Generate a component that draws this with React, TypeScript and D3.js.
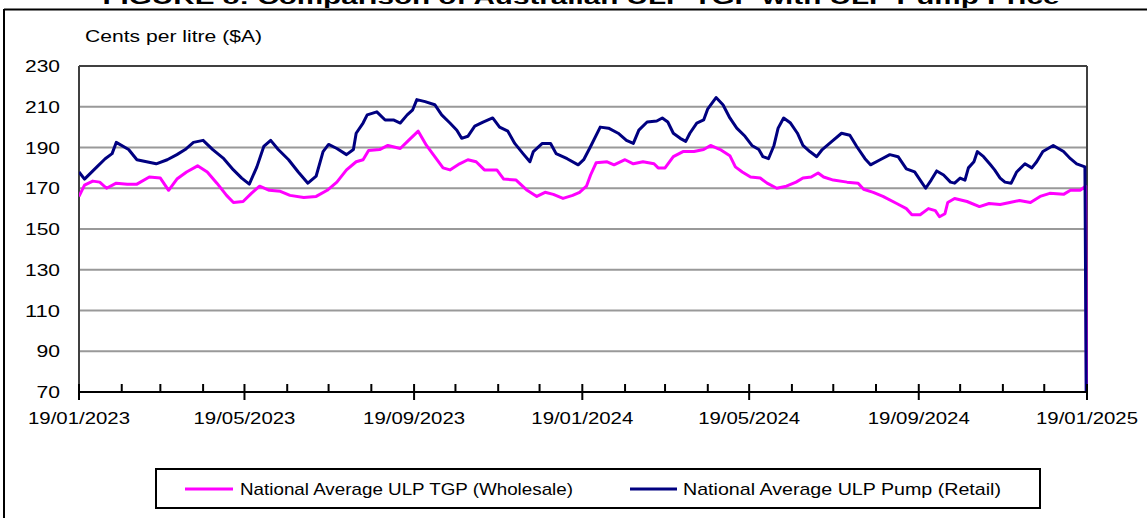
import React from "react";
import * as d3 from "d3";

const TITLE = "FIGURE 8: Comparison of Australian ULP TGP with ULP Pump Price";
const Y_TITLE = "Cents per litre ($A)";
const SERIES_NAMES = ["National Average ULP TGP (Wholesale)", "National Average ULP Pump (Retail)"];
const START_DATE = "2023-01-19";
const END_DATE = "2025-01-19";
const yTicks = [70, 90, 110, 130, 150, 170, 190, 210, 230];
const xTickLabels = ["19/01/2023", "19/05/2023", "19/09/2023", "19/01/2024", "19/05/2024", "19/09/2024", "19/01/2025"];

// [days since 19/01/2023, cents per litre]
const tgpWholesale: [number, number][] = [
  [0,166],[4,171.5],[10,173.5],[15,173],[20,170],[27,172.5],[35,172],[42,172],[51,175.5],[59,175],[65,169],[71,174.5],
  [78,178],[86,181],[93,178],[100,172.5],[107,166.5],[112,163],[119,163.5],[125,167.5],[131,171],[138,169],[146,168.5],
  [153,166.5],[163,165.5],[172,166],[180,169],[187,173],[194,179],[201,183],[206,184],[210,188.5],[218,189],[224,191],
  [233,189.5],[239,193.5],[246,198],[252,191],[258,185.5],[264,180],[269,179],[276,182],[282,184],[288,183],[294,179],
  [303,179],[308,174.5],[317,174],[325,169],[332,166],[338,168],[344,167],[351,165],[358,166.5],[363,168],[368,171],
  [371,176.5],[375,182.5],[383,183],[388,181.5],[396,184],[402,182],[409,183],[417,182],[420,180],[425,180],[431,185.5],
  [438,188],[446,188],[453,189],[458,191],[465,189],[472,186],[476,180.5],[481,178],[487,175.5],[494,175],[499,172.5],
  [506,170],[513,171],[520,173],[525,175],[531,175.5],[536,177.5],[540,175.5],[547,174],[557,173],[565,172.5],[569,169.5],
  [576,168],[583,166],[593,162.5],[600,160],[604,157],[610,157],[616,160],[621,159],[624,156],[628,157.5],[630,163],
  [635,165],[644,163.5],[653,161],[660,162.5],[668,162],[675,163],[682,164],[690,163],[697,166],[704,167.5],[714,167],
  [719,169],[726,169],[730,171],[731,0]
];

const pumpRetail: [number, number][] = [
  [0,178],[4,174.5],[13,180.5],[19,184.5],[24,187],[27,192.5],[36,189],[42,184],[49,183],[56,182],[64,184],[71,186.5],
  [77,189],[83,192.5],[90,193.5],[97,189],[105,184.5],[112,179],[118,175],[123.5,172],[129,180.5],[134,190.5],[139,193.5],
  [144.5,189],[152,184],[159,178],[166,172.5],[172,176],[177,188],[181,191.5],[187,189.5],[194,186.5],[199,189],[201,197],
  [206,202],[209,206],[216,207.5],[222,203.5],[228,203.5],[233,202],[238,206],[242,208.5],[245,213.5],[251,212.5],[258,211],
  [263,206],[269,202],[274,198.5],[277.5,194.5],[282,195.5],[287,200.5],[293,202.5],[300,204.5],[305,200],[311,198],[316,192],
  [322,187],[327,183],[329.5,188],[336,192],[342,192],[346,187],[354,184.5],[362,181.5],[366,184],[371,190.5],[378,200],
  [384,199.5],[391,197],[397,193.5],[402,192],[406,198.5],[412,202.5],[419,203],[423,204.5],[427,202.5],[431,197],[436,194.5],
  [440,193],[443,197],[448,202],[453,203.5],[456,209],[462,214.5],[467,211],[472,204.5],[477,199.5],[483,195.5],[488,191],
  [493,189],[496,185.5],[500,184.5],[504,191],[507,199.5],[511,204.5],[516,202],[521,197],[525,191],[530,188],[535,185.5],
  [539,189],[546,193],[553,197],[559,196],[564,190.5],[570,184.5],[574,181.5],[581,184],[588,186.5],[594,185.5],[600,179.5],
  [606,178],[611,173],[614,170],[618,174],[622,178.5],[627,176.5],[632,173],[635,172.5],[639,175],[642.5,174],[645,180],
  [649,183],[651.5,188],[656,185.5],[661,181.5],[664,179],[668,175],[671.5,173],[676,172.5],[680,178],[686,182],[691,180],
  [694.5,183],[699,188],[706.5,191],[714,188],[719,184.5],[723.5,182],[729.5,180.5],[731,0]
];

const COLORS = ["#FF00FF", "#000080"];
const FONT = "'Liberation Sans', Arial, sans-serif";

export default function App() {
  const W = 1147, H = 518;
  const plot = { left: 79, right: 1087, top: 66, bottom: 392 };
  const start = d3.timeParse("%Y-%m-%d")(START_DATE)!;
  const end = d3.timeParse("%Y-%m-%d")(END_DATE)!;
  const x = d3.scaleTime().domain([start, end]).range([plot.left, plot.right]);
  const y = d3.scaleLinear().domain([70, 230]).range([plot.bottom, plot.top]);
  const toDate = (d: number) => d3.timeHour.offset(start, d * 24);
  const line = d3.line<[number, number]>().x(p => x(toDate(p[0]))).y(p => y(p[1]));
  const monthTicks = d3.range(0, 25).map(i => d3.timeMonth.offset(start, i));

  return (
    <div style={{ position: "absolute", left: 0, top: 0, width: W, height: H, background: "#fff" }}>
      <svg width={W} height={H} style={{ display: "block", fontFamily: FONT }}>
        <defs>
          <clipPath id="plotclip">
            <rect x={plot.left} y={plot.top - 10} width={plot.right - plot.left + 2} height={plot.bottom - plot.top + 10} />
          </clipPath>
        </defs>
        <rect width={W} height={H} fill="#fff" />
        {/* title (cut at top) */}
        <text x={581} y={3.5} textAnchor="middle" fontSize={21} fontWeight="bold" textLength={957} lengthAdjust="spacingAndGlyphs">{TITLE}</text>
        {/* outer frame */}
        <line x1={4} x2={W} y1={9.5} y2={9.5} stroke="#000" strokeWidth={2} />
        <line x1={4} x2={4} y1={9} y2={H} stroke="#000" strokeWidth={2} />
        {/* y title */}
        <text x={85} y={42} fontSize={17} textLength={177} lengthAdjust="spacingAndGlyphs">{Y_TITLE}</text>
        {/* gridlines */}
        {yTicks.filter(t => t > 70 && t < 230).map(t => (
          <line key={t} x1={plot.left} x2={plot.right} y1={y(t)} y2={y(t)} stroke="#999" strokeWidth={2} />
        ))}
        {/* plot border */}
        <line x1={plot.left} x2={plot.right} y1={plot.top} y2={plot.top} stroke="#404040" strokeWidth={2} />
        <line x1={plot.left} x2={plot.left} y1={plot.top} y2={plot.bottom} stroke="#404040" strokeWidth={2} />
        <line x1={plot.right} x2={plot.right} y1={plot.top} y2={plot.bottom} stroke="#404040" strokeWidth={2} />
        {/* y labels */}
        {yTicks.map(t => (
          <text key={t} x={60} y={y(t) + 6} textAnchor="end" fontSize={17}
            textLength={t >= 100 ? 35 : 23.5} lengthAdjust="spacingAndGlyphs">{t}</text>
        ))}
        {/* series */}
        <g clipPath="url(#plotclip)">
          <path d={line(tgpWholesale)!} fill="none" stroke={COLORS[0]} strokeWidth={3} strokeLinejoin="round" />
          <path d={line(pumpRetail)!} fill="none" stroke={COLORS[1]} strokeWidth={3} strokeLinejoin="round" />
        </g>
        {/* x axis */}
        <line x1={plot.left} x2={plot.right} y1={plot.bottom} y2={plot.bottom} stroke="#000" strokeWidth={2} />
        {monthTicks.map((d, i) => (
          <line key={i} x1={x(d)} x2={x(d)} y1={plot.bottom - 8} y2={i % 4 === 0 ? plot.bottom + 8 : plot.bottom}
            stroke="#000" strokeWidth={2} />
        ))}
        {monthTicks.filter((_, i) => i % 4 === 0).map((d, i) => (
          <text key={i} x={x(d)} y={424} textAnchor="middle" fontSize={17} textLength={102}
            lengthAdjust="spacingAndGlyphs">{xTickLabels[i]}</text>
        ))}
        {/* legend */}
        <rect x={156} y={469} width={884} height={39} fill="#fff" stroke="#000" strokeWidth={2} />
        <line x1={185} x2={233} y1={489} y2={489} stroke={COLORS[0]} strokeWidth={3} />
        <text x={240} y={495} fontSize={17} textLength={333} lengthAdjust="spacingAndGlyphs">{SERIES_NAMES[0]}</text>
        <line x1={630} x2={677} y1={489} y2={489} stroke={COLORS[1]} strokeWidth={3} />
        <text x={683} y={495} fontSize={17} textLength={318} lengthAdjust="spacingAndGlyphs">{SERIES_NAMES[1]}</text>
      </svg>
    </div>
  );
}
